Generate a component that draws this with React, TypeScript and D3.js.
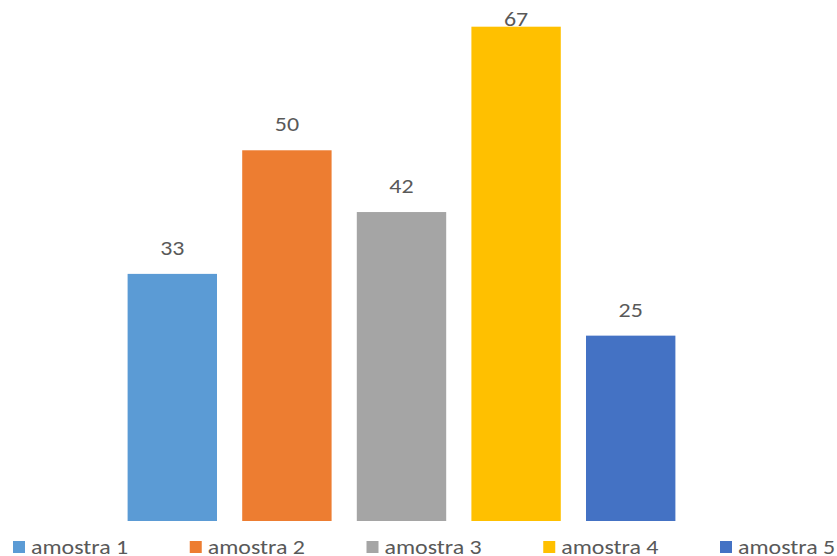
import React from "react";
import * as d3 from "d3";

const categories = ["amostra 1", "amostra 2", "amostra 3", "amostra 4", "amostra 5"];
const values = [33.33, 50, 41.67, 66.67, 25];
const colors = ["#5B9BD5", "#ED7D31", "#A5A5A5", "#FFC000", "#4472C4"];

const W = 837;
const H = 556;
const SX = 1.14;

export default function App() {
  const x = d3.scaleBand<string>().domain(categories).range([115, 688]).paddingInner(0.22).paddingOuter(0.11);
  const y = d3.scaleLinear().domain([0, 70]).range([521, 2]);
  const legendX = d3.scaleLinear().domain([0, 4]).range([13, 720]);
  const font = "Carlito, Calibri, 'Liberation Sans', Arial, sans-serif";
  return (
    <svg width={W} height={H} style={{ position: "absolute", left: 0, top: 0 }}>
      <rect width={W} height={H} fill="#fff" />
      {categories.map((c, i) => {
        const cx = (x(c) as number) + x.bandwidth() / 2;
        const ly = Math.max(y(values[i]) - 19, 26);
        return (
          <g key={c}>
            <rect x={x(c)} y={y(values[i])} width={x.bandwidth()} height={y(0) - y(values[i])} fill={colors[i]} />
            <text
              transform={`translate(${cx},${ly}) scale(${SX},1)`}
              textAnchor="middle"
              fontFamily={font}
              fontSize={21}
              fill="#595959"
            >
              {d3.format(".0f")(values[i])}
            </text>
          </g>
        );
      })}
      {categories.map((c, i) => (
        <g key={"l" + c} transform={`translate(${legendX(i)},0)`}>
          <rect x={0} y={541} width={12} height={12} fill={colors[i]} />
          <text transform={`translate(18,554) scale(${SX},1)`} fontFamily={font} fontSize={21} fill="#595959">
            {c}
          </text>
        </g>
      ))}
    </svg>
  );
}
